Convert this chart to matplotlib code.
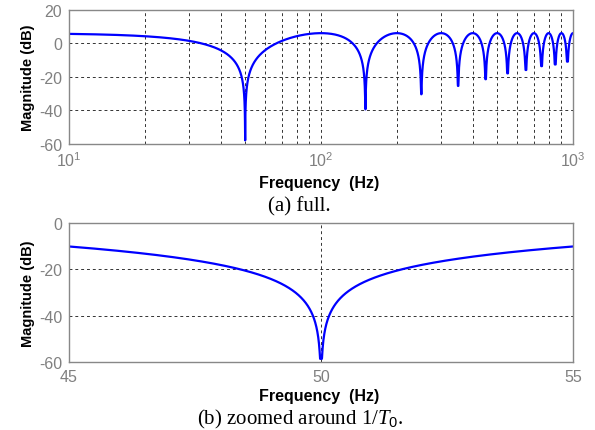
import numpy as np
import matplotlib
matplotlib.use("Agg")
import matplotlib.pyplot as plt
from matplotlib.ticker import LogLocator, NullFormatter

# ---- values ----
notch_freqs = [50, 150, 250, 350, 450, 550, 650, 750, 850, 950]        # Hz
notch_depths_full = [-58, -39.5, -30.5, -25.5, -21.5, -18, -16, -13.7, -12.7, -11]  # dB
notch_depth_zoom = -58.5
peak_gain_db = 6.0          # level of the lobes between notches
full_xlim = (10, 1000)
full_ylim = (-60, 20)
full_yticks = [-60, -40, -20, 0, 20]
zoom_xlim = (45, 55)
zoom_ylim = (-60, 0)
zoom_xticks = [45, 50, 55]
zoom_yticks = [-60, -40, -20, 0]

W, H = 595, 431
plt.rcParams['font.family'] = ['Liberation Sans', 'DejaVu Sans']
plt.rcParams['axes.unicode_minus'] = False
plt.rcParams['mathtext.fontset'] = 'custom'
plt.rcParams['mathtext.rm'] = 'Liberation Sans'
plt.rcParams['mathtext.it'] = 'Liberation Serif:italic'
fig = plt.figure(figsize=(W / 100, H / 100), dpi=100)

def comb_db(f, depths):
    # lobe shape of the response between notches, clipped at the depth seen at each notch
    g = 10 ** (peak_gain_db / 20)
    mag = g * np.abs(np.cos(np.pi * f / (2 * notch_freqs[0])))
    idx = np.argmin(np.abs(f[:, None] - np.array(notch_freqs)[None, :]), axis=1)
    floor = 10 ** (np.array(depths)[idx] / 20)
    return 20 * np.log10(np.maximum(mag, floor))

def px_axes(l, t, r, b):
    return fig.add_axes([l / W, 1 - b / H, (r - l) / W, (b - t) / H])

grid_kw = dict(color='#333333', linestyle=(0, (3, 3)), linewidth=0.7)
tick_color = '#808080'
frame_color = '#888888'

def style(ax):
    for s in ax.spines.values():
        s.set_color(frame_color)
        s.set_linewidth(1.0)
    ax.tick_params(which='both', length=0, labelcolor=tick_color, labelsize=11.5, pad=5)

# ---- (a) full ----
ax1 = px_axes(69, 10.7, 573, 144.7)
f1 = np.logspace(np.log10(full_xlim[0]), np.log10(full_xlim[1]), 20000)
f1 = np.unique(np.concatenate([f1, notch_freqs]))
ax1.semilogx(f1, comb_db(f1, notch_depths_full), color='#0000ff', linewidth=1.6)
ax1.set_xlim(*full_xlim)
ax1.set_ylim(*full_ylim)
ax1.set_yticks(full_yticks)
ax1.xaxis.set_major_locator(LogLocator(base=10))
ax1.xaxis.set_minor_locator(LogLocator(base=10, subs=np.arange(2, 10)))
ax1.xaxis.set_minor_formatter(NullFormatter())
ax1.grid(True, which='both', axis='x', **grid_kw)
ax1.grid(True, which='major', axis='y', **grid_kw)
style(ax1)
ax1.set_ylabel('Magnitude (dB)', fontsize=10.5, fontweight='bold', labelpad=3)

# ---- (b) zoomed ----
ax2 = px_axes(69, 224, 573, 363.3)
f2 = np.linspace(zoom_xlim[0], zoom_xlim[1], 4001)
ax2.plot(f2, comb_db(f2, [notch_depth_zoom] * len(notch_freqs)), color='#0000ff', linewidth=1.6)
ax2.set_xlim(*zoom_xlim)
ax2.set_ylim(*zoom_ylim)
ax2.set_xticks(zoom_xticks)
ax2.set_yticks(zoom_yticks)
ax2.grid(True, **grid_kw)
style(ax2)
ax2.set_ylabel('Magnitude (dB)', fontsize=10.5, fontweight='bold', labelpad=3)

# ---- labels & captions ----
fig.text(319 / W, 1 - 184 / H, 'Frequency  (Hz)', ha='center', va='center',
         fontsize=11.5, fontweight='bold')
fig.text(299 / W, 1 - 207 / H, '(a) full.', ha='center', va='center',
         fontsize=15, family='Liberation Serif')
fig.text(300 / W, 1 - 419 / H, r'(b) zoomed around 1/$T_{\mathit{0}}$.', ha='center', va='center',
         fontsize=15, family='Liberation Serif')

fig.text(319 / W, 1 - 397 / H, 'Frequency  (Hz)', ha='center', va='center',
         fontsize=11.5, fontweight='bold')

fig.savefig('out.png', dpi=100)
